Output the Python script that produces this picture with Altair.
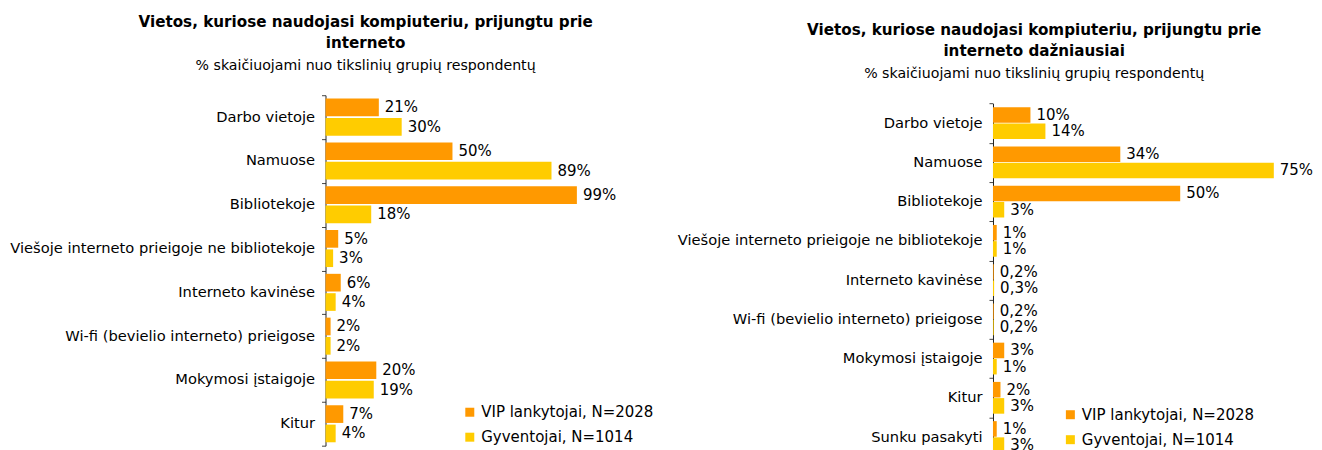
import altair as alt
import pandas as pd

FONT = "DejaVu Sans"

series = ["VIP lankytojai, N=2028", "Gyventojai, N=1014"]
colors = ["#FF9900", "#FFCC00"]

subtitle = "% skaičiuojami nuo tikslinių grupių respondentų"
left_title = ["Vietos, kuriose naudojasi kompiuteriu, prijungtu prie", "interneto"]
right_title = ["Vietos, kuriose naudojasi kompiuteriu, prijungtu prie", "interneto dažniausiai"]

left_cats = [
    "Darbo vietoje",
    "Namuose",
    "Bibliotekoje",
    "Viešoje interneto prieigoje ne bibliotekoje",
    "Interneto kavinėse",
    "Wi-fi (bevielio interneto) prieigose",
    "Mokymosi įstaigoje",
    "Kitur",
]
left_vip = [21, 50, 99, 5, 6, 2, 20, 7]
left_pop = [30, 89, 18, 3, 4, 2, 19, 4]

right_cats = [
    "Darbo vietoje",
    "Namuose",
    "Bibliotekoje",
    "Viešoje interneto prieigoje ne bibliotekoje",
    "Interneto kavinėse",
    "Wi-fi (bevielio interneto) prieigose",
    "Mokymosi įstaigoje",
    "Kitur",
    "Sunku pasakyti",
]
right_vip = [10, 34, 50, 1, 0.2, 0.2, 3, 2, 1]
right_pop = [14, 75, 3, 1, 0.3, 0.2, 1, 3, 3]


def fmt(v):
    return f"{v:g}".replace(".", ",") + "%"


def table(cats, vip, pop):
    rows = []
    for c, a, b in zip(cats, vip, pop):
        rows.append({"cat": c, "series": series[0], "value": a, "label": fmt(a)})
        rows.append({"cat": c, "series": series[1], "value": b, "label": fmt(b)})
    return pd.DataFrame(rows)


def panel(df, cats, title, xmax, width, height, yrange, p_in, p_out, lx, ly, tdx, tdy):
    base = alt.Chart(df).encode(
        y=alt.Y(
            "cat:N",
            sort=cats,
            scale=alt.Scale(paddingInner=0, paddingOuter=0, range=yrange),
            axis=alt.Axis(
                title=None,
                tickBand="extent",
                tickSize=4,
                labelPadding=7,
                labelFontSize=14.7,
                labelColor="#000000",
                labelLimit=0,
                domainColor="#222222",
                tickColor="#444444",
                labelFont=FONT,
            ),
        ),
        yOffset=alt.YOffset(
            "series:N", sort=series, scale=alt.Scale(paddingInner=p_in, paddingOuter=p_out)
        ),
    )
    bars = base.mark_bar().encode(
        x=alt.X("value:Q", scale=alt.Scale(domain=[0, xmax], nice=False, zero=True), axis=None),
        color=alt.Color(
            "series:N",
            sort=series,
            scale=alt.Scale(domain=series, range=colors),
            legend=alt.Legend(
                title=None,
                orient="none",
                legendX=lx,
                legendY=ly,
                symbolType="square",
                symbolSize=81,
                symbolStrokeWidth=0,
                symbolOpacity=1,
                labelFontSize=15,
                labelFont=FONT,
                labelColor="#000000",
                labelLimit=0,
                labelOffset=4,
                rowPadding=9,
            ),
        ),
    )
    labels = base.mark_text(
        align="left", baseline="middle", dx=6, fontSize=15, font=FONT, color="#000000"
    ).encode(x=alt.X("value:Q"), text="label:N")
    return alt.layer(bars, labels).properties(
        width=width,
        height=height,
        title=alt.TitleParams(
            text=title,
            subtitle=subtitle,
            dx=tdx,
            dy=tdy,
            anchor="middle",
            fontSize=15.2,
            fontWeight="bold",
            font=FONT,
            color="#000000",
            lineHeight=21,
            subtitleFont=FONT,
            subtitleFontSize=14.2,
            subtitleColor="#000000",
            subtitlePadding=8,
            offset=14,
        ),
    )


left = panel(
    table(left_cats, left_vip, left_pop), left_cats, left_title,
    100, 254.3, 351, [0, 351], 0.0876, 0.175, 137, 310, -87, 0,
)
right = panel(
    table(right_cats, right_vip, right_pop), right_cats, right_title,
    78, 292.5, 362, [8.3, 362], 0.037, 0.23, 70, 312.5, -105, 8.3,
)

chart = (
    alt.hconcat(left, right, spacing=22.5)
    .resolve_scale(color="independent", x="independent", y="independent", yOffset="independent")
    .resolve_legend(color="independent")
    .properties(padding={"left": 1, "top": 6, "right": 0, "bottom": 0})
    .configure(font=FONT)
    .configure_view(strokeWidth=0, stroke=None)
)

chart.save("out.html", embed_options={"renderer": "svg", "actions": False})
